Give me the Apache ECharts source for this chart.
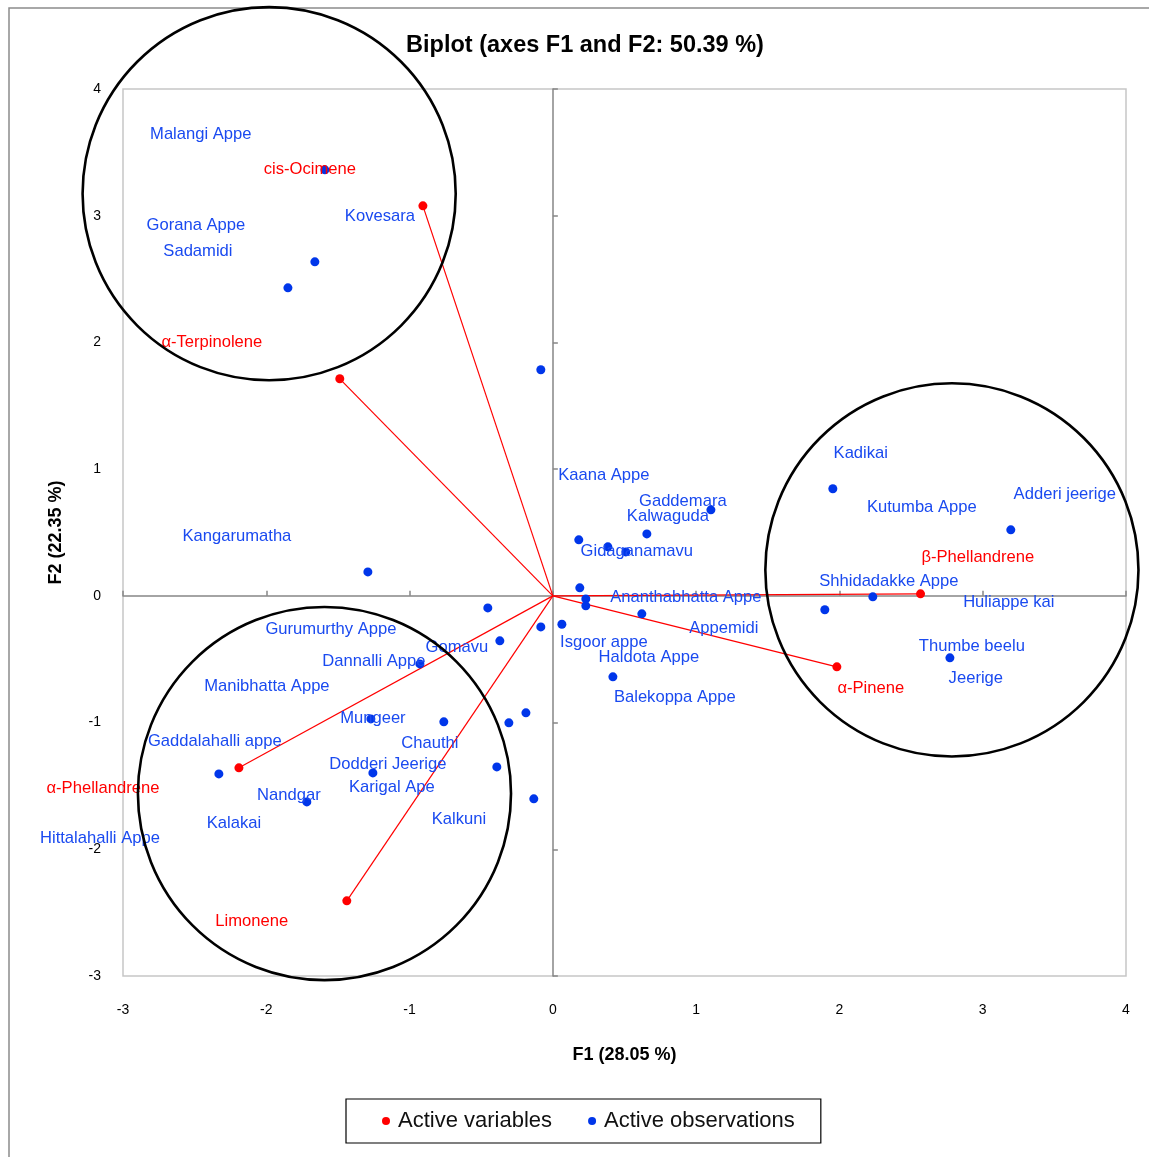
<!DOCTYPE html>
<html>
<head>
<meta charset="utf-8">
<script src="https://cdn.jsdelivr.net/npm/echarts@6/dist/echarts.min.js"></script>
<style>
  html, body { margin: 0; padding: 0; background: #fff; }
  #chart { width: 1149px; height: 1157px; }
</style>
</head>
<body>
<div id="chart"></div>
<script>
// axis ranges
const f1Range = [-3, 4]
const f2Range = [-3, 4]

// observations (blue points)
const obsX = [-1.591, -1.661, -1.849, -0.084, -1.291, 1.954, 3.196, 1.103, 0.656, 0.181,
  0.384, 0.509, 0.188, 0.230, 0.230, 0.621, 0.063, -0.084, -0.454, -0.370,
  -0.188, -0.307, -0.761, -1.270, -0.928, -0.391, -0.133, -1.256, -1.717, -2.331,
  1.898, 2.233, 2.771, 0.419]
const obsY = [3.362, 2.636, 2.431, 1.784, 0.189, 0.845, 0.521, 0.679, 0.489, 0.442,
  0.387, 0.347, 0.063, -0.024, -0.079, -0.142, -0.224, -0.245, -0.095, -0.355,
  -0.923, -1.002, -0.994, -0.971, -0.537, -1.350, -1.602, -1.397, -1.626, -1.405,
  -0.110, -0.008, -0.489, -0.639]

// observation labels (as placed in the original plot)
const obsNames = ['Malangi Appe', 'Gorana Appe', 'Sadamidi', 'Kovesara', 'Kangarumatha',
  'Kadikai', 'Kutumba Appe', 'Adderi jeerige', 'Kaana Appe', 'Gaddemara', 'Kalwaguda',
  'Gidaganamavu', 'Shhidadakke Appe', 'Ananthabhatta Appe', 'Huliappe kai', 'Appemidi',
  'Isgoor appe', 'Haldota Appe', 'Thumbe beelu', 'Jeerige', 'Balekoppa Appe',
  'Gurumurthy Appe', 'Gomavu', 'Dannalli Appe', 'Manibhatta Appe', 'Mungeer',
  'Gaddalahalli appe', 'Chauthi', 'Dodderi Jeerige', 'Karigal Ape', 'Nandgar',
  'Kalakai', 'Kalkuni', 'Hittalahalli Appe']
const obsLabelX = [-2.457, -2.491, -2.477, -1.207, -2.205,
  2.149, 2.575, 3.573, 0.356, 0.907, 0.803,
  0.586, 2.345, 0.928, 3.182, 1.193,
  0.356, 0.670, 2.924, 2.952, 0.851,
  -1.549, -0.670, -1.249, -1.996, -1.256,
  -2.359, -0.858, -1.152, -1.124, -1.842,
  -2.226, -0.656, -3.161]
const obsLabelY = [3.638, 2.920, 2.715, 2.991, 0.466,
  1.121, 0.694, 0.797, 0.947, 0.742, 0.623,
  0.347, 0.110, -0.016, -0.055, -0.260,
  -0.371, -0.489, -0.402, -0.655, -0.805,
  -0.268, -0.410, -0.521, -0.718, -0.971,
  -1.152, -1.168, -1.334, -1.515, -1.571,
  -1.799, -1.768, -1.918]

// variables (red vectors)
const varNames = ['cis-Ocimene', 'α-Terpinolene', 'β-Phellandrene', 'α-Pinene', 'α-Phellandrene', 'Limonene']
const varX = [-0.907, -1.487, 2.566, 1.982, -2.191, -1.438]
const varY = [3.078, 1.713, 0.016, -0.560, -1.357, -2.407]
const varLabelX = [-1.696, -2.380, 2.966, 2.219, -3.140, -2.101]
const varLabelY = [3.362, 1.997, 0.300, -0.734, -1.523, -2.573]

// grouping circles: centre (F1, F2) and radius in F1 units
const circleX = [-1.980, 2.785, -1.594]
const circleY = [3.174, 0.205, -1.560]
const circleR = [1.302, 1.302, 1.302]

const RED = '#ff0000'
const BLUE = '#0036ea'
const LABEL_BLUE = '#1a4af0'
const FONT = 'Liberation Sans, Arial, sans-serif'

const chart = echarts.init(document.getElementById('chart'))

const valueAxis = (extra) => Object.assign({
  type: 'value',
  interval: 1,
  splitLine: { show: false },
  axisLine: { show: false, onZero: false },
  axisTick: { show: false },
  axisLabel: { color: '#000', fontFamily: FONT, fontSize: 14 }
}, extra)

const zeroAxis = (extra) => Object.assign({
  type: 'value',
  interval: 1,
  splitLine: { show: false },
  axisLine: { show: true, onZero: true, lineStyle: { color: '#868686', width: 1.5 } },
  axisTick: { show: true, length: 5, lineStyle: { color: '#868686', width: 1.5 } },
  axisLabel: { show: false }
}, extra)

const labelSeries = (name, names, xs, ys, color) => ({
  name,
  type: 'scatter',
  clip: false,
  silent: true,
  symbolSize: 1,
  z: 5,
  itemStyle: { color: 'rgba(0,0,0,0)', opacity: 1 },
  label: {
    show: true, position: 'inside', color, opacity: 1,
    fontFamily: FONT, fontSize: 16.6,
    formatter: (p) => p.data[2]
  },
  data: names.map((n, i) => [xs[i], ys[i], n])
})

chart.setOption({
  animation: false,
  backgroundColor: '#fff',
  textStyle: { fontFamily: FONT },
  title: {
    text: 'Biplot (axes F1 and F2: 50.39 %)',
    left: 580, top: 29, textAlign: 'center',
    textStyle: { fontFamily: FONT, fontSize: 23.5, fontWeight: 'bold', color: '#000' }
  },
  grid: {
    left: 123, top: 89, right: 23, bottom: 181,
    show: true, borderColor: '#c6c6c6', borderWidth: 1.5
  },
  legend: {
    data: ['Active variables', 'Active observations'],
    left: 346, top: 1099,
    padding: [11, 26, 11, 36],
    borderColor: '#000', borderWidth: 1.2,
    icon: 'circle', itemWidth: 8, itemHeight: 8, itemGap: 36,
    textStyle: { fontFamily: FONT, fontSize: 22, color: '#111', padding: [0, 0, 0, 3] }
  },
  xAxis: [
    valueAxis({
      min: f1Range[0], max: f1Range[1], position: 'bottom',
      axisLabel: { color: '#000', fontFamily: FONT, fontSize: 14, margin: 27 },
      name: 'F1 (28.05 %)', nameLocation: 'middle', nameGap: 70,
      nameTextStyle: { fontFamily: FONT, fontSize: 18, fontWeight: 'bold', color: '#000' }
    }),
    zeroAxis({ min: f1Range[0], max: f1Range[1], position: 'top' })
  ],
  yAxis: [
    valueAxis({
      min: f2Range[0], max: f2Range[1], position: 'left',
      axisLabel: { color: '#000', fontFamily: FONT, fontSize: 14, margin: 22 },
      name: 'F2 (22.35 %)', nameLocation: 'middle', nameGap: 58,
      nameTextStyle: { fontFamily: FONT, fontSize: 18, fontWeight: 'bold', color: '#000' }
    }),
    zeroAxis({ min: f2Range[0], max: f2Range[1], position: 'right' })
  ],
  series: [
    {
      name: 'vectors',
      type: 'lines',
      coordinateSystem: 'cartesian2d',
      silent: true,
      z: 2,
      lineStyle: { color: RED, width: 1.2, opacity: 1 },
      data: varX.map((x, i) => ({ coords: [[0, 0], [x, varY[i]]] }))
    },
    {
      name: 'Active variables',
      type: 'scatter',
      symbolSize: 9,
      z: 4,
      itemStyle: { color: RED, opacity: 1 },
      data: varX.map((x, i) => [x, varY[i]])
    },
    {
      name: 'Active observations',
      type: 'scatter',
      symbolSize: 9,
      z: 4,
      itemStyle: { color: BLUE, opacity: 1 },
      data: obsX.map((x, i) => [x, obsY[i]])
    },
    labelSeries('obsLabels', obsNames, obsLabelX, obsLabelY, LABEL_BLUE),
    labelSeries('varLabels', varNames, varLabelX, varLabelY, RED)
  ]
})

// outer chart-area frame + grouping circles (placed through the axes' scales)
const circles = circleX.map((cx, i) => {
  const c = chart.convertToPixel({ gridIndex: 0 }, [cx, circleY[i]])
  const e = chart.convertToPixel({ gridIndex: 0 }, [cx + circleR[i], circleY[i]])
  return {
    type: 'circle',
    z: 10,
    silent: true,
    shape: { cx: c[0], cy: c[1], r: e[0] - c[0] },
    style: { fill: 'none', stroke: '#000', lineWidth: 2.6 }
  }
})

chart.setOption({
  graphic: [
    {
      type: 'rect', z: 0, silent: true,
      shape: { x: 9, y: 8, width: 1160, height: 1170 },
      style: { fill: 'none', stroke: '#8c8c8c', lineWidth: 1.5 }
    }
  ].concat(circles)
})
</script>
</body>
</html>
